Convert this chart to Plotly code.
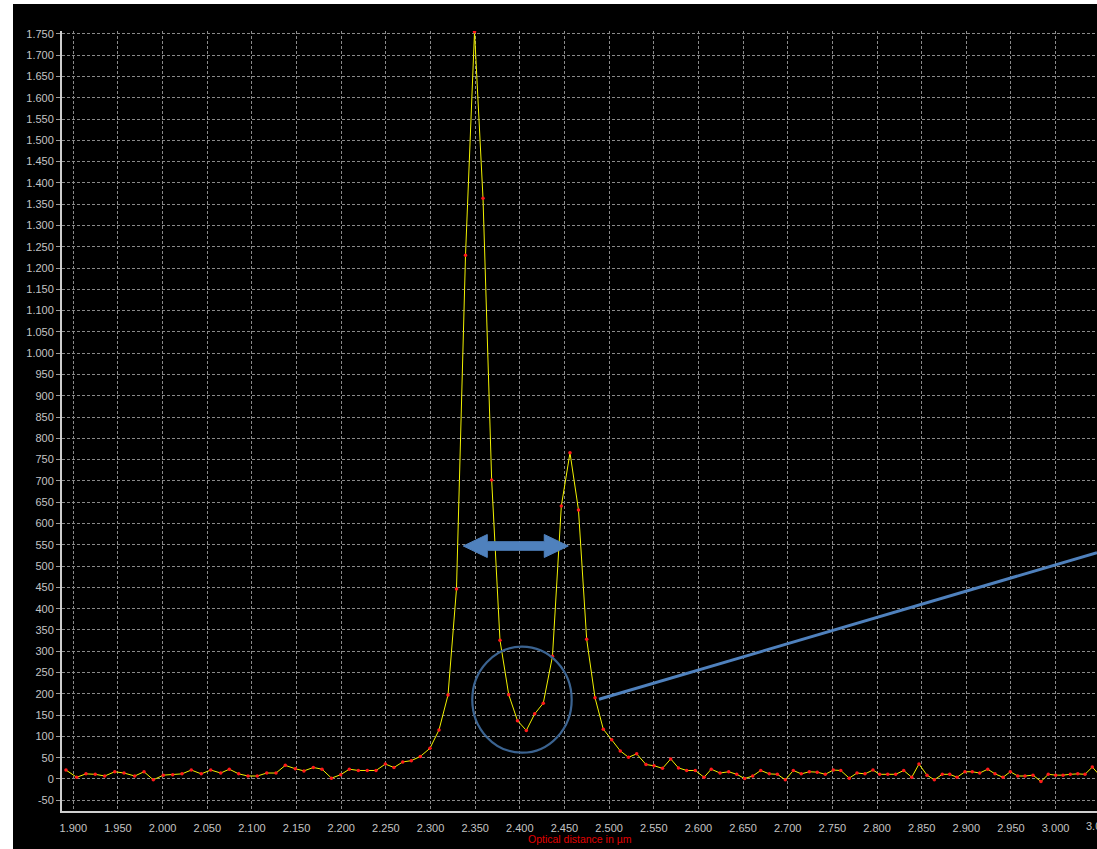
import plotly.graph_objects as go

# Measured interferometer signal: optical distance (µm) vs. intensity
x_um = [
    1.8918, 1.9038, 1.9142, 1.9246, 1.9352, 1.9464, 1.9568, 1.9688, 1.9792, 1.9896,
    2.0008, 2.0113, 2.0217, 2.0321, 2.0433, 2.0539, 2.0651, 2.0747, 2.0852, 2.0956,
    2.1060, 2.1166, 2.1270, 2.1374, 2.1486, 2.1583, 2.1688, 2.1785, 2.1891, 2.1994,
    2.2091, 2.2192, 2.2292, 2.2390, 2.2494, 2.2591, 2.2689, 2.2785, 2.2886, 2.2994,
    2.3095, 2.3196, 2.3291, 2.3392, 2.3493, 2.3588, 2.3685, 2.3778, 2.3876, 2.3974,
    2.4073, 2.4167, 2.4263, 2.4366, 2.4465, 2.4562, 2.4657, 2.4749, 2.4842, 2.4935,
    2.5029, 2.5125, 2.5217, 2.5309, 2.5413, 2.5503, 2.5598, 2.5690, 2.5777, 2.5869,
    2.5965, 2.6063, 2.6144, 2.6242, 2.6339, 2.6429, 2.6518, 2.6608, 2.6698, 2.6794,
    2.6884, 2.6973, 2.7063, 2.7152, 2.7242, 2.7331, 2.7421, 2.7511, 2.7594, 2.7689,
    2.7776, 2.7866, 2.7955, 2.8030, 2.8120, 2.8209, 2.8299, 2.8389, 2.8470, 2.8560,
    2.8642, 2.8731, 2.8814, 2.8896, 2.8985, 2.9067, 2.9150, 2.9240, 2.9321, 2.9411,
    2.9493, 2.9576, 2.9657, 2.9747, 2.9836, 2.9918, 3.0001, 3.0083, 3.0165, 3.0248,
    3.0329, 3.0411, 3.0497,
]
intensity = [
    21, 4, 12, 11, 7, 17, 14, 7, 17, -2,
    9, 10, 12, 21, 12, 21, 14, 23, 12, 7,
    7, 14, 14, 32, 24, 19, 27, 23, 2, 10,
    23, 20, 20, 20, 35, 27, 40, 43, 53, 72,
    115, 197, 446, 1230, 1755, 1364, 702, 326, 198, 137,
    114, 153, 178, 288, 641, 766, 632, 328, 191, 117,
    92, 66, 51, 59, 34, 31, 25, 47, 26, 20,
    20, 4, 23, 14, 17, 11, 1, 7, 20, 12,
    11, -2, 20, 12, 17, 16, 11, 21, 20, 2,
    14, 12, 21, 11, 11, 11, 20, 4, 35, 9,
    -2, 11, 11, 4, 17, 17, 14, 23, 12, 4,
    17, 7, 7, 9, -6, 11, 9, 9, 11, 12,
    11, 28, 8,
]

# Axis ticks and labels
x_ticks = [round(1.90 + 0.05 * i, 2) for i in range(24)]
x_tick_labels = [f"{v:.3f}" for v in x_ticks]
y_ticks = list(range(-50, 1751, 50))
y_tick_labels = [f"{v:,}".replace(",", ".") for v in y_ticks]

X_RANGE = [1.88735, 3.04636]
Y_RANGE = [-75.2, 1756.7]

TICK_FONT = dict(family="Liberation Sans, Arial, sans-serif", size=11, color="#c4c4c4")
GRID = dict(showgrid=True, gridcolor="#8a8a8a", gridwidth=1, griddash="3px,2px")

fig = go.Figure()
fig.add_trace(go.Scatter(
    x=x_um, y=intensity, mode="lines+markers",
    line=dict(color="#f2f200", width=1),
    marker=dict(color="#ff1a1a", size=3.5, line=dict(width=0)),
    hoverinfo="x+y", showlegend=False,
))

# Double-headed block arrow between the two peaks
arrow = dict(tip_l=2.3367, head_l=2.3636, head_r=2.4274, tip_r=2.4543,
             mid=547.2, head_top=574.2, head_bot=520.2, shaft_top=557.3, shaft_bot=537.1)
a = arrow
arrow_path = (
    f"M {a['tip_l']},{a['mid']} L {a['head_l']},{a['head_top']} L {a['head_l']},{a['shaft_top']} "
    f"L {a['head_r']},{a['shaft_top']} L {a['head_r']},{a['head_top']} L {a['tip_r']},{a['mid']} "
    f"L {a['head_r']},{a['head_bot']} L {a['head_r']},{a['shaft_bot']} L {a['head_l']},{a['shaft_bot']} "
    f"L {a['head_l']},{a['head_bot']} Z"
)
shapes = [
    dict(type="path", xref="x", yref="y", path=arrow_path,
         fillcolor="#4f81bd", line=dict(color="#4f81bd", width=1), layer="above"),
    # circle around the valley between the peaks
    dict(type="circle", xref="x", yref="y", x0=2.3468, x1=2.4581, y0=61.8, y1=310.7,
         line=dict(color="#3b6390", width=2.2), fillcolor="rgba(0,0,0,0)", layer="above"),
    # pointer line leading out of the chart
    dict(type="line", xref="x", yref="y", x0=2.4887, y0=187.2, x1=3.0464, y1=531.5,
         line=dict(color="#4f81bd", width=3), layer="above"),
    # white page border strips
    dict(type="rect", xref="paper", yref="paper", x0=-62 / 1035, x1=-49 / 1035, y0=-38 / 780, y1=31 / 780 + 1,
         fillcolor="white", line=dict(width=0), layer="above"),
    dict(type="rect", xref="paper", yref="paper", x0=-62 / 1035, x1=1.01, y0=1 + 27 / 780, y1=1 + 31 / 780,
         fillcolor="white", line=dict(width=0), layer="above"),
]

annotations = [
    dict(text="Optical distance in µm", xref="paper", yref="paper", x=0.5, y=-28 / 780,
         xanchor="center", yanchor="middle", showarrow=False,
         font=dict(family="Liberation Sans, Arial, sans-serif", size=10.5, color="#e00000")),
]
# tick labels that sit just past the right edge are partly visible
for v, t in zip(x_ticks, x_tick_labels):
    if v > X_RANGE[1]:
        frac = (v - X_RANGE[0]) / (X_RANGE[1] - X_RANGE[0])
        if frac < 1.05:
            annotations.append(dict(text=t, xref="paper", yref="paper", x=frac, y=-14.5 / 780,
                                     xanchor="center", yanchor="middle", showarrow=False,
                                     font=TICK_FONT))

fig.update_layout(
    width=1097, height=849,
    margin=dict(l=62, r=0, t=31, b=38),
    paper_bgcolor="black", plot_bgcolor="black",
    shapes=shapes, annotations=annotations,
    xaxis=dict(range=X_RANGE, tickvals=x_ticks, ticktext=x_tick_labels, tickfont=TICK_FONT,
               ticks="outside", ticklen=4, tickcolor="black", ticklabelstandoff=2,
               showline=True, linecolor="#cfcfcf", linewidth=2, zeroline=False, **GRID),
    yaxis=dict(range=Y_RANGE, tickvals=y_ticks, ticktext=y_tick_labels, tickfont=TICK_FONT,
               ticks="outside", ticklen=4, tickcolor="#9a9a9a",
               showline=True, linecolor="#cfcfcf", linewidth=2, zeroline=False, **GRID),
)

fig.write_html("out.html")
